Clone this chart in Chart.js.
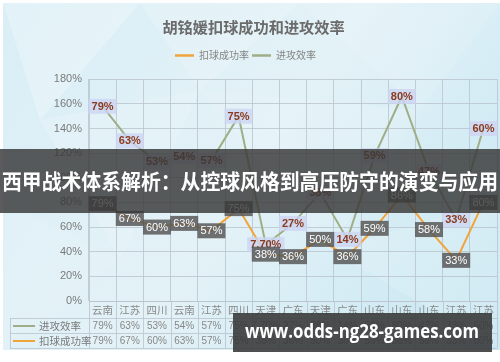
<!DOCTYPE html>
<html>
<head>
<meta charset="utf-8">
<script src="https://cdn.jsdelivr.net/npm/chart.js@4"></script>
<style>
  html, body { margin: 0; padding: 0; background: #fff; }
  #chart { display: block; }
</style>
</head>
<body>
<canvas id="chart" width="500" height="362"></canvas>
<script>
// data
const categories = ['云南', '江苏', '四川', '云南', '江苏', '四川', '天津', '广东', '天津', '广东', '山东', '山东', '山东', '江苏', '江苏'];
const spikeRate = [79, 67, 60, 63, 57, 75, 38, 36, 50, 36, 59, 86, 58, 33, 80];   // 扣球成功率
const attackEff = [79, 63, 53, 54, 57, 75, 7.7, 27, 38, 14, 59, 80, 47, 33, 60];  // 进攻效率
const yMax = 180;
const yStep = 20;

const titleText = '胡铭媛扣球成功和进攻效率';
const bannerText = '西甲战术体系解析：从控球风格到高压防守的演变与应用';
const watermarkText = 'www.odds-ng28-games.com';

const orange = '#f2a43c';
const olive = '#9fae86';
const gridColor = 'rgba(185,195,205,0.8)';
const cjk = '"Noto Sans CJK SC", "Noto Sans", sans-serif';

function pct(v) {
  return Number.isInteger(v) ? v + '%' : v.toFixed(2) + '%';
}

const backgroundPlugin = {
  id: 'bg',
  beforeDraw(chart) {
    const ctx = chart.ctx;
    ctx.save();
    ctx.fillStyle = '#fff';
    ctx.fillRect(0, 0, chart.width, chart.height);
    const g = ctx.createLinearGradient(0, 0, 500, 350);
    g.addColorStop(0, '#d9eef6');
    g.addColorStop(0.5, '#e3f2f7');
    g.addColorStop(1, '#c6e6f2');
    ctx.fillStyle = g;
    ctx.fillRect(3, 3, chart.width - 3, 347);
    // soft low-poly shapes
    const tris = [
      [[3, 3], [140, 3], [40, 120], 0.25],
      [[140, 3], [300, 3], [200, 90], 0.18],
      [[300, 3], [500, 3], [420, 110], 0.12],
      [[40, 120], [200, 90], [120, 260], 0.15],
      [[200, 90], [420, 110], [330, 250], 0.12],
      [[3, 200], [120, 260], [3, 350], 0.1],
      [[330, 250], [500, 200], [500, 350], 0.15]
    ];
    tris.forEach(t => {
      ctx.fillStyle = 'rgba(255,255,255,' + t[3] + ')';
      ctx.beginPath();
      ctx.moveTo(t[0][0], t[0][1]);
      ctx.lineTo(t[1][0], t[1][1]);
      ctx.lineTo(t[2][0], t[2][1]);
      ctx.closePath();
      ctx.fill();
    });
    ctx.restore();
  }
};

// legend drawn by hand so it can sit between title and plot
const legendPlugin = {
  id: 'lineLegend',
  afterDraw(chart) {
    const ctx = chart.ctx;
    const y = 55.5;
    let x = 175;
    ctx.save();
    ctx.font = '10px ' + cjk;
    ctx.textBaseline = 'middle';
    ctx.textAlign = 'left';
    chart.data.datasets.forEach(ds => {
      ctx.strokeStyle = ds.borderColor;
      ctx.lineWidth = 2.5;
      ctx.beginPath();
      ctx.moveTo(x, y);
      ctx.lineTo(x + 19, y);
      ctx.stroke();
      ctx.fillStyle = '#858585';
      ctx.fillText(ds.label, x + 24, y);
      x += 24 + ctx.measureText(ds.label).width + 3;
    });
    ctx.restore();
  }
};

function drawBox(ctx, x, y, text, bg, fg, bold) {
  ctx.font = (bold ? 'bold ' : '') + '11px "Liberation Sans", Arial, sans-serif';
  const w = ctx.measureText(text).width + 6;
  const h = 15;
  ctx.fillStyle = bg;
  ctx.fillRect(x - w / 2, y - h / 2, w, h);
  ctx.fillStyle = fg;
  ctx.textAlign = 'center';
  ctx.textBaseline = 'middle';
  ctx.fillText(text, x, y + 0.5);
}

const labelsPlugin = {
  id: 'pointLabels',
  afterDatasetsDraw(chart) {
    const ctx = chart.ctx;
    ctx.save();
    const effMeta = chart.getDatasetMeta(1);
    effMeta.data.forEach((pt, i) => {
      drawBox(ctx, pt.x, pt.y, pct(attackEff[i]), 'rgba(205,212,242,0.8)', '#8a3a1c', true);
    });
    const spikeMeta = chart.getDatasetMeta(0);
    spikeMeta.data.forEach((pt, i) => {
      drawBox(ctx, pt.x, pt.y, pct(spikeRate[i]), 'rgba(88,88,88,0.85)', '#fff', false);
    });
    ctx.restore();
  }
};

const tablePlugin = {
  id: 'dataTable',
  afterDraw(chart) {
    const ctx = chart.ctx;
    const x = chart.scales.x;
    const area = chart.chartArea;
    const rowTop = 318, rowH = 15;
    const left = 10;
    ctx.save();
    ctx.strokeStyle = gridColor;
    ctx.lineWidth = 1;
    // horizontal table lines
    [rowTop, rowTop + rowH, rowTop + 2 * rowH].forEach(y => {
      ctx.beginPath();
      ctx.moveTo(left, y + 0.5);
      ctx.lineTo(area.right, y + 0.5);
      ctx.stroke();
    });
    // vertical lines at category boundaries
    const half = (x.getPixelForValue(1) - x.getPixelForValue(0)) / 2;
    for (let i = 0; i <= categories.length; i++) {
      const px = i < categories.length ? x.getPixelForValue(i) - half : area.right;
      ctx.beginPath();
      ctx.moveTo(Math.round(px) + 0.5, area.bottom);
      ctx.lineTo(Math.round(px) + 0.5, rowTop + 2 * rowH);
      ctx.stroke();
    }
    ctx.beginPath();
    ctx.moveTo(left + 0.5, rowTop);
    ctx.lineTo(left + 0.5, rowTop + 2 * rowH);
    ctx.stroke();

    const rows = [
      { name: '进攻效率', color: olive, values: attackEff },
      { name: '扣球成功率', color: orange, values: spikeRate }
    ];
    rows.forEach((r, k) => {
      const cy = rowTop + k * rowH + rowH / 2 + 0.5;
      ctx.strokeStyle = r.color;
      ctx.lineWidth = 2;
      ctx.beginPath();
      ctx.moveTo(13, cy);
      ctx.lineTo(35, cy);
      ctx.stroke();
      ctx.fillStyle = '#7a7a7a';
      ctx.font = '10.5px ' + cjk;
      ctx.textAlign = 'left';
      ctx.textBaseline = 'middle';
      ctx.fillText(r.name, 39, cy);
      ctx.font = '10px "Liberation Sans", Arial, sans-serif';
      ctx.textAlign = 'center';
      ctx.fillStyle = '#888';
      r.values.forEach((v, i) => {
        ctx.fillText(pct(v), x.getPixelForValue(i), cy);
      });
    });
    ctx.restore();
  }
};

const overlayPlugin = {
  id: 'overlay',
  afterDraw(chart) {
    const ctx = chart.ctx;
    ctx.save();
    // banner across the middle
    ctx.fillStyle = 'rgba(55,55,55,0.82)';
    ctx.fillRect(0, 149, chart.width, 64);
    ctx.font = 'bold 21px ' + cjk;
    ctx.textAlign = 'center';
    ctx.textBaseline = 'middle';
    ctx.fillStyle = '#fff';
    let w = ctx.measureText(bannerText).width;
    ctx.save();
    ctx.translate(250, 181);
    ctx.scale(Math.min(1, 496 / w), 1);
    ctx.fillText(bannerText, 0, 0);
    ctx.restore();
    // watermark
    ctx.fillStyle = 'rgba(55,55,55,0.88)';
    ctx.fillRect(233, 313, 259, 39);
    ctx.font = 'bold 19px "Open Sans", "DejaVu Sans", sans-serif';
    ctx.fillStyle = '#fff';
    w = ctx.measureText(watermarkText).width;
    ctx.translate(362, 333);
    ctx.scale(234 / w, 1);
    ctx.fillText(watermarkText, 0, 0);
    ctx.restore();
  }
};

new Chart(document.getElementById('chart').getContext('2d'), {
  type: 'line',
  data: {
    labels: categories,
    datasets: [
      {
        label: '扣球成功率',
        data: spikeRate,
        borderColor: orange,
        backgroundColor: orange,
        borderWidth: 2,
        pointRadius: 0,
        tension: 0,
        fill: false
      },
      {
        label: '进攻效率',
        data: attackEff,
        borderColor: olive,
        backgroundColor: olive,
        borderWidth: 2,
        pointRadius: 0,
        tension: 0,
        fill: false
      }
    ]
  },
  options: {
    responsive: false,
    animation: false,
    devicePixelRatio: 1,
    layout: { padding: { top: 14, right: 3, bottom: 14, left: 10 } },
    plugins: {
      title: {
        display: true,
        text: titleText,
        color: '#6b6b6b',
        font: { size: 15.2, weight: 'bold', family: cjk },
        padding: { top: 4, bottom: 43 }
      },
      legend: { display: false },
      tooltip: { enabled: false }
    },
    scales: {
      x: {
        offset: true,
        grid: { offset: true, color: gridColor, drawTicks: false },
        border: { color: gridColor },
        ticks: {
          color: '#888',
          font: { size: 10.5, family: cjk },
          padding: 3,
          autoSkip: false,
          maxRotation: 0
        },
        afterFit(scale) { scale.height = 47; }
      },
      y: {
        stacked: true,
        min: 0,
        max: yMax,
        grid: { color: gridColor, drawTicks: false },
        border: { color: gridColor },
        ticks: {
          stepSize: yStep,
          color: '#7a7a7a',
          font: { size: 11, family: '"Liberation Sans", Arial, sans-serif' },
          padding: 7,
          callback: v => v + '%'
        },
        afterFit(scale) { scale.width = 79; }
      }
    }
  },
  plugins: [backgroundPlugin, legendPlugin, labelsPlugin, tablePlugin, overlayPlugin]
});
</script>
</body>
</html>
